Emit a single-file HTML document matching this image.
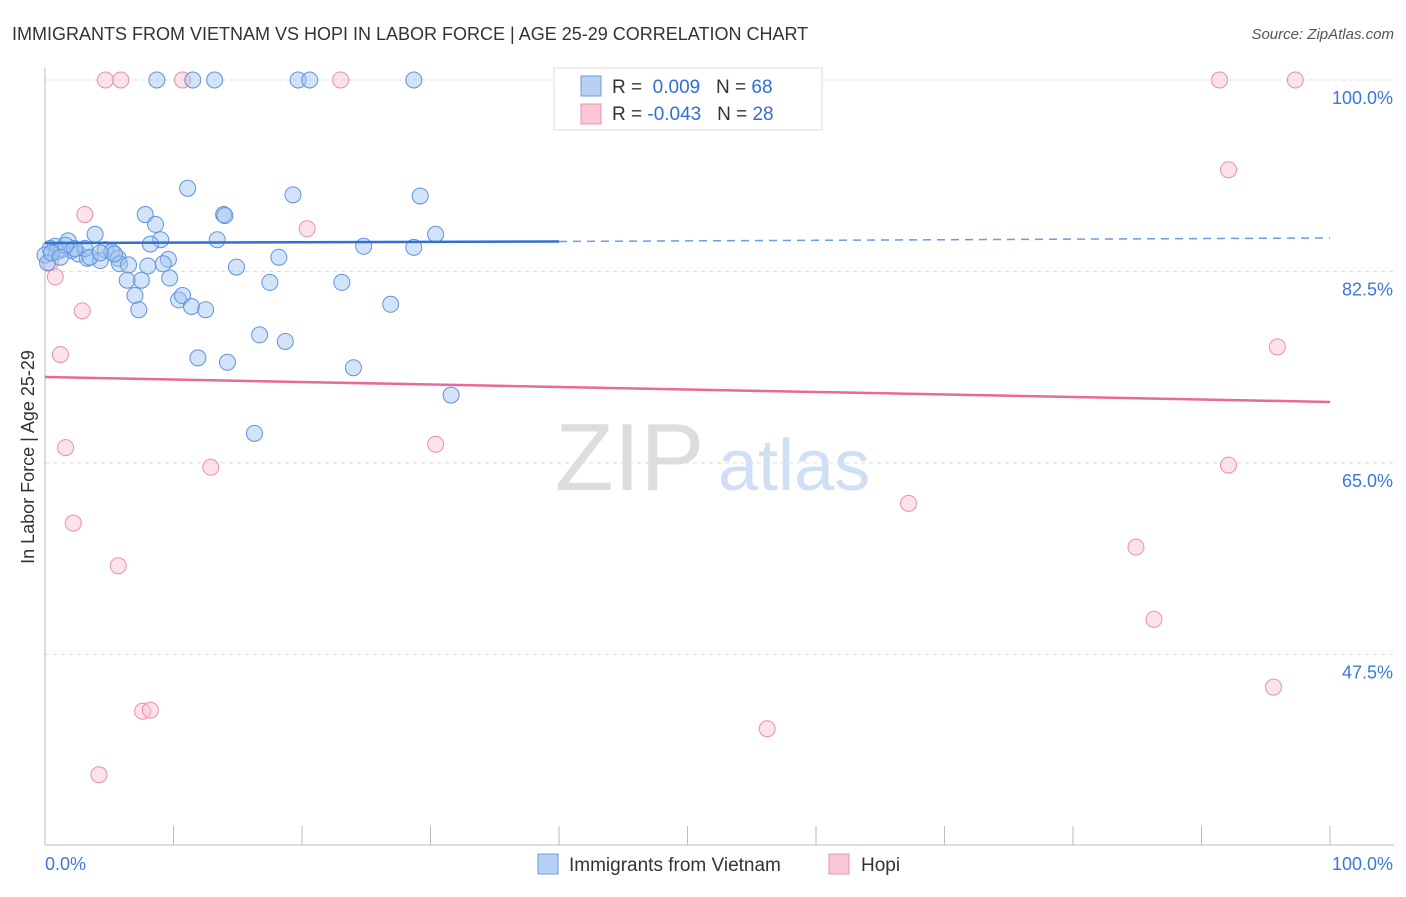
<!DOCTYPE html>
<html><head><meta charset="utf-8"><style>
body{margin:0;background:#fff;font-family:"Liberation Sans",sans-serif;}
svg text{font-family:"Liberation Sans",sans-serif;}
</style></head><body>
<svg width="1406" height="892" xmlns="http://www.w3.org/2000/svg">
<text x="12" y="40" font-size="18" fill="#333">IMMIGRANTS FROM VIETNAM VS HOPI IN LABOR FORCE | AGE 25-29 CORRELATION CHART</text>
<text x="1394" y="39" font-size="15" fill="#555" text-anchor="end" font-style="italic">Source: ZipAtlas.com</text>
<g id="grid"></g>
<g id="axes"></g>
<text x="555" y="490" font-size="96" fill="#ddd" font-family="Liberation Serif">ZIP</text>
<text x="718" y="490" font-size="72" fill="#cfe0f5">atlas</text>
<g id="pts"></g>
<g id="trend"></g>
<text transform="translate(34,457) rotate(-90)" font-size="18" fill="#333" text-anchor="middle">In Labor Force | Age 25-29</text>
<g>
<rect x="554" y="68" width="268" height="62" fill="#fff" stroke="#ddd"/>
<rect x="581" y="76" width="20" height="20" fill="#b7d0f3" stroke="#6b9be0"/>
<rect x="581" y="104" width="20" height="20" fill="#f8c6d6" stroke="#e894b0"/>
<text x="612" y="93" font-size="19" fill="#333">R = <tspan fill="#2f6fd6">&#160;0.009</tspan>&#160;&#160;&#160;N = <tspan fill="#2f6fd6">68</tspan></text>
<text x="612" y="120" font-size="19" fill="#333">R = <tspan fill="#2f6fd6">-0.043</tspan>&#160;&#160;&#160;N = <tspan fill="#2f6fd6">28</tspan></text>
</g>
<g>
<rect x="538" y="854" width="20" height="20" fill="#b7d0f3" stroke="#6b9be0"/>
<text x="569" y="871" font-size="19" fill="#333">Immigrants from Vietnam</text>
<rect x="829" y="854" width="20" height="20" fill="#f8c6d6" stroke="#e894b0"/>
<text x="861" y="871" font-size="19" fill="#333">Hopi</text>
</g>
</svg>
<script>
const yTicks=[100,82.5,65,47.5];
const yTickLabels=["100.0%","82.5%","65.0%","47.5%"];
const xTickLabels=["0.0%","100.0%"];
const vietX=[8.7,11.5,13.2,19.7,20.6,28.7,11.1,19.3,29.2,7.8,13.9,14,8.6,30.4,3.9,9,13.4,8.2,24.8,28.7,1.8,0.8,0.4,0.9,1.3,2.1,2.6,3.3,4.3,4.7,5.2,5.7,5.8,6.5,9.6,9.2,8,14.9,18.2,6.4,7.5,9.7,17.5,23.1,7,10.4,10.7,11.4,12.5,7.3,26.9,16.7,18.7,11.9,14.2,24,31.6,16.3,0,0.2,0.5,3.1,5.4,3.5,4.3,2.3,1.6,1.2];
const vietY=[100,100,100,100,100,100,90.1,89.5,89.4,87.7,87.7,87.6,86.8,85.9,85.9,85.4,85.4,85,84.8,84.7,85.3,84.8,84.6,84.3,84.5,84.4,84.1,83.7,83.5,84.5,84.3,83.7,83.2,83.1,83.6,83.2,83,82.9,83.8,81.7,81.7,81.9,81.5,81.5,80.3,79.9,80.3,79.3,79,79,79.5,76.7,76.1,74.6,74.2,73.7,71.2,67.7,84,83.3,84.2,84.6,84.1,83.8,84.2,84.6,84.9,83.8];
const hopiX=[4.7,5.9,10.7,23,91.4,97.3,92.1,3.1,20.4,0.4,0.8,2.9,1.2,95.9,1.6,12.9,30.4,92.1,67.2,2.2,84.9,5.7,86.3,95.6,7.6,8.2,56.2,4.2];
const hopiY=[100,100,100,100,100,100,91.8,87.7,86.4,83.3,82,78.9,74.9,75.6,66.4,64.6,66.7,64.8,61.3,59.5,57.3,55.6,50.7,44.5,42.3,42.4,40.7,36.5];
const trendVX=[0,40,100],trendVY=[85.1,85.24,85.56];
const trendHX=[0,100],trendHY=[72.85,70.57];
const X=v=>45+v*12.85, Y=v=>80+(100-v)*10.94;
const NS="http://www.w3.org/2000/svg";
function mk(p,t,a){const e=document.createElementNS(NS,t);for(const k in a)e.setAttribute(k,a[k]);p.appendChild(e);return e;}
const grid=document.getElementById('grid'),axes=document.getElementById('axes');
yTicks.forEach((t,i)=>{
 const l=mk(grid,'line',{x1:45,x2:1394,y1:Y(t),y2:Y(t),stroke:'#ddd','stroke-dasharray':'4,4'});
 
 
 const tx=mk(axes,'text',{x:1393,y:Y(t)+24,'font-size':18,fill:'#3a78d8','text-anchor':'end'});
 tx.textContent=yTickLabels[i];
 
 
});
mk(axes,'line',{x1:45,x2:45,y1:68,y2:845,stroke:'#bbb'});
mk(axes,'line',{x1:45,x2:1394,y1:845,y2:845,stroke:'#bbb'});
for(let i=0;i<=10;i++){mk(axes,'line',{x1:X(i*10),x2:X(i*10),y1:826,y2:845,stroke:'#bbb'});}
let a=mk(axes,'text',{x:45,y:870,'font-size':18,fill:'#3a78d8'});a.textContent=xTickLabels[0];


a=mk(axes,'text',{x:1393,y:870,'font-size':18,fill:'#3a78d8','text-anchor':'end'});a.textContent=xTickLabels[1];


const pts=document.getElementById('pts');
hopiX.forEach((x,i)=>{const c=mk(pts,'circle',{cx:X(x),cy:Y(hopiY[i]),r:8,fill:'rgba(248,190,210,0.45)',stroke:'#e890ad','stroke-width':1});

});
vietX.forEach((x,i)=>{const c=mk(pts,'circle',{cx:X(x),cy:Y(vietY[i]),r:8,fill:'rgba(160,195,240,0.45)',stroke:'#5f93dc','stroke-width':1});

});
const tr=document.getElementById('trend');
let l=mk(tr,'line',{x1:X(trendVX[0]),y1:Y(trendVY[0]),x2:X(trendVX[1]),y2:Y(trendVY[1]),stroke:'#2f6fd6','stroke-width':2.5});


l=mk(tr,'line',{x1:X(trendVX[1]),y1:Y(trendVY[1]),x2:X(trendVX[2]),y2:Y(trendVY[2]),stroke:'#6b9be0','stroke-width':1.5,'stroke-dasharray':'8,6'});


l=mk(tr,'line',{x1:X(trendHX[0]),y1:Y(trendHY[0]),x2:X(trendHX[1]),y2:Y(trendHY[1]),stroke:'#e8699a','stroke-width':2.5});


</script>
</body></html>
